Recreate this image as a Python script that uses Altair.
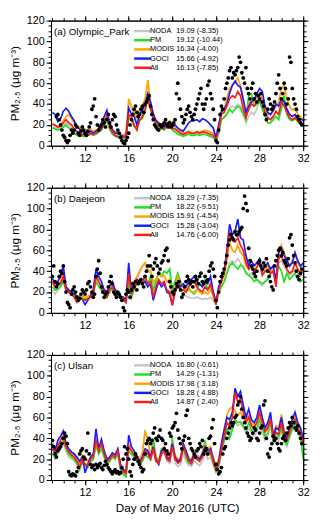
import altair as alt
import pandas as pd

FONT = "Liberation Sans"
MODELS = ["NODA", "PM", "MODIS", "GOCI", "All"]
COLORS = ["#c4c4c4", "#20e020", "#ffa500", "#1a1aff", "#ff1a1a"]
SITES = ["(a) Olympic_Park", "(b) Daejeon", "(c) Ulsan"]
STATS_A = ["19.09 (-8.35)", "19.12 (-10.44)", "16.34 (-4.00)", "15.66 (-4.92)", "16.13 (-7.85)"]
STATS_B = ["18.29 (-7.35)", "18.22 (-9.51)", "15.91 (-4.54)", "15.28 (-3.04)", "14.76 (-6.00)"]
STATS_C = ["16.80 (-0.61)", "14.29 (-1.31)", "17.98 ( 3.18)", "18.28 ( 4.88)", "14.87 ( 2.40)"]
X_MAJOR = [12, 16, 20, 24, 28, 32]
X_MINOR = list(range(9, 33))
Y_MAJOR = [0, 20, 40, 60, 80, 100, 120]
Y_MINOR = list(range(0, 121, 5))
X_TITLE = "Day of May 2016 (UTC)"
Y_TITLE = "PM\u2082.\u2085 (\u03bcg m\u207b\u00b3)"

# model output sampled every 6 h from May 9 00 UTC to May 32 00 UTC (93 values)
T_MODEL = [9 + i * 0.25 for i in range(93)]
# observations sampled every 3 h (184 values)
T_OBS = [9 + i * 0.125 for i in range(184)]

# ---------------- (a) Olympic_Park ----------------
A_NODA = [18,17,16,18, 20,22,20,17, 14,12,11,10, 10,11,12,11, 12,14,16,22, 26,17,12,10,
          9,8,8,9, 42,36,30,26, 32,35,42,60, 42,32,24,20, 18,17,20,22, 16,14,12,11,
          10,11,12,11, 10,11,10,11, 11,10,9,8, 5,12,25,28, 32,36,38,37, 40,38,30,22,
          28,32,30,35, 45,40,32,26, 25,28,32,30, 40,45,35,30, 28,30,26,24, 22]
A_PM = [17,16,15,16, 18,20,17,15, 12,10,10,9, 9,10,11,10, 11,13,15,20, 24,16,11,9,
        8,7,7,8, 28,25,18,18, 24,26,32,48, 38,28,20,18, 16,15,18,20, 15,13,11,10,
        9,10,11,10, 10,11,10,11, 11,10,9,8, 5,12,25,27, 30,35,32,35, 38,36,30,25,
        48,50,38,40, 42,35,28,22, 22,25,28,25, 35,48,30,25, 24,26,23,21, 20]
A_MODIS = [20,19,18,20, 24,28,30,26, 22,18,18,16, 15,14,16,14, 15,17,20,26, 30,22,16,14,
           12,11,10,12, 45,38,32,28, 35,38,45,63, 40,30,25,22, 20,18,22,24, 20,18,15,14,
           12,13,14,13, 12,14,13,14, 15,14,13,12, 7,18,32,34, 45,55,58,60, 65,58,42,30,
           40,45,42,46, 50,45,36,30, 30,33,38,42, 55,58,45,38, 34,36,30,28, 25]
A_GOCI = [32,30,23,26, 33,36,33,28, 24,18,16,14, 13,12,14,12, 14,16,22,28, 34,22,15,12,
          12,10,9,9, 36,30,28,20, 30,34,40,50, 42,30,24,22, 20,18,22,20, 18,20,17,15,
          14,18,22,24, 24,25,23,26, 25,23,20,17, 8,20,33,35, 40,50,58,62, 58,56,45,32,
          38,42,44,50, 55,52,38,32, 30,34,40,38, 45,42,35,30, 28,30,25,26, 24]
A_ALL = [21,20,18,19, 22,25,22,20, 16,14,12,11, 10,10,12,11, 12,14,16,22, 28,18,13,10,
         9,8,8,9, 30,28,20,15, 25,28,35,45, 35,26,22,20, 18,16,20,21, 17,16,14,12,
         11,12,13,12, 12,13,12,13, 13,12,11,10, 6,15,30,32, 38,45,48,46, 52,48,35,27,
         35,40,38,42, 45,40,32,27, 25,28,33,30, 42,38,32,27, 25,27,24,22, 20]
A_OBS = [None,None,None,28,30,25,20,15, 10,8,5,3,5,10,15,12, 15,20,18,12,10,14,18,15,
         12,10,14,18,22,35,38,45, 28,20,15,18,20,25,22,18, 25,30,22,18,25,30,28,20,
         15,12,8,5,3,2,5,8, 12,20,25,30,35,38,32,28, 30,35,38,32,40,42,45,48,
         38,30,25,20,18,16,15,20, 18,20,22,25,20,18,22,18, 20,22,25,50,60,45,35,28,
         22,25,30,35,38,32,28,25, 30,35,40,45,50,55,40,35, 40,45,58,62,50,45,35,25,
         5,3,15,30,38,35,45,55, 60,65,72,75,65,70,68,72, 75,85,80,70,65,60,75,55,
         50,45,55,60,45,50,42,48, 45,50,42,38,30,25,35,45, 40,35,38,42,50,60,68,55,
         45,50,60,55,40,45,85,80, 55,45,40,35,28,25,22,20]

# ---------------- (b) Daejeon ----------------
B_NODA = [22,18,22,25, 32,22,20,18, 16,15,16,15, 14,15,17,20, 35,28,24,20, 18,22,26,20,
          18,15,14,11, 35,18,28,32, 38,44,48,40, 38,28,32,38, 35,40,38,42, 20,28,35,28,
          18,16,15,14, 14,15,14,13, 14,13,15,12, 8,18,25,30, 38,48,50,48, 52,48,45,40,
          36,38,34,32, 28,26,30,34, 36,40,30,48, 50,45,40,36, 38,42,38,35, 36]
B_PM = [25,22,23,25, 30,22,20,18, 16,15,16,14, 13,14,16,18, 30,25,22,18, 15,20,24,18,
        16,14,12,10, 30,15,22,28, 30,28,32,28, 35,22,30,38, 35,40,38,42, 22,30,38,30,
        25,22,24,20, 18,22,28,25, 32,22,25,20, 12,20,25,30, 38,45,48,45, 42,46,44,38,
        36,34,30,32, 30,28,30,32, 38,40,35,45, 40,30,38,32, 35,38,32,30, 32]
B_MODIS = [28,25,26,30, 38,24,22,20, 18,16,17,16, 15,16,18,22, 38,30,26,22, 20,25,28,22,
           20,16,15,12, 40,20,30,35, 40,45,48,42, 40,30,32,38, 35,36,30,32, 15,25,35,28,
           25,20,22,20, 20,22,20,18, 20,18,22,16, 10,22,30,36, 50,68,60,58, 65,58,55,45,
           42,44,40,44, 50,40,42,45, 40,42,32,55, 65,58,52,45, 50,56,48,44, 46]
B_GOCI = [33,28,30,35, 45,25,22,20, 18,16,14,13, 8,12,16,22, 42,35,30,22, 20,26,30,22,
          20,16,15,12, 48,20,28,32, 30,28,30,25, 28,12,22,30, 25,28,20,18, 8,22,30,25,
          28,25,30,32, 35,30,28,25, 30,28,35,20, 10,25,32,40, 60,85,75,78, 90,72,70,55,
          45,50,45,48, 52,40,45,48, 42,45,30,58, 62,55,50,45, 48,58,50,45, 48]
B_ALL = [30,25,26,28, 35,22,20,18, 15,10,14,13, 12,13,15,18, 35,30,25,18, 15,22,25,18,
         18,14,13,10, 38,18,25,30, 32,30,35,28, 30,15,25,32, 28,30,22,20, 7,20,28,22,
         22,20,25,28, 30,25,22,20, 25,22,28,18, 8,22,30,38, 55,78,70,68, 72,65,60,48,
         42,45,40,44, 48,36,40,42, 38,40,25,52, 55,48,42,38, 40,48,42,38, 40]
B_OBS = [35,45,30,25,28,35,40,38, 45,30,20,10,8,5,18,22, 25,20,15,12,14,18,22,20,
         18,22,28,30,25,20,15,18, 35,42,50,38,25,20,15,18, 20,25,30,35,28,20,18,15,
         20,18,15,12,5,2,18,22, 20,15,22,28,25,30,22,28, 30,32,28,25,35,40,45,55,
         45,35,42,48,52,45,38,42, 48,50,55,60,62,50,30,25, 20,18,22,28,25,30,22,15,
         18,25,30,35,32,28,30,25, 30,35,32,28,35,38,30,28, 35,30,32,40,45,48,42,35,
         12,5,20,30,35,38,42,48, 55,65,70,75,72,70,78,75, 75,78,80,82,100,112,105,98,
         62,50,45,42,38,35,40,48, 50,45,42,48,45,52,40,35, 30,25,22,45,50,55,60,62,
         55,58,50,48,45,52,72,75, 65,55,48,40,35,32,38,42]

# ---------------- (c) Ulsan ----------------
C_NODA = [25,20,25,30, 35,28,22,20, 18,15,12,16, 16,14,18,20, 32,25,30,22, 16,18,22,20,
          25,10,6,5, 28,25,22,18, 16,24,48,38, 18,28,18,15, 24,26,18,16, 28,16,13,15,
          25,18,14,13, 18,16,14,18, 26,20,22,14, 8,12,25,36, 48,45,50,56, 52,54,50,45,
          50,45,42,46, 55,45,38,42, 52,35,42,38, 48,36,32,40, 48,52,45,40, 30]
C_PM = [26,22,28,32, 38,30,25,22, 20,16,10,18, 14,12,18,20, 34,25,30,22, 15,18,22,20,
        26,10,5,3, 28,25,22,18, 14,18,24,22, 20,40,22,18, 30,30,22,20, 40,22,18,20,
        30,22,16,15, 22,20,18,26, 38,24,26,16, 8,14,28,38, 50,40,48,58, 55,56,52,48,
        55,48,45,50, 58,50,42,45, 57,38,45,42, 50,38,34,42, 50,55,48,42, 20]
C_MODIS = [32,26,33,38, 43,33,28,25, 24,20,16,24, 22,18,22,24, 40,30,36,26, 20,22,26,24,
           29,14,10,8, 34,30,26,22, 20,26,46,40, 24,34,22,20, 28,32,24,22, 36,24,20,22,
           34,28,22,20, 26,24,22,26, 34,30,32,22, 14,20,34,48, 62,68,70,66, 62,65,60,58,
           62,55,52,56, 62,55,48,52, 62,44,52,50, 63,48,42,52, 56,60,52,48, 38]
C_GOCI = [35,28,38,42, 47,35,30,27, 25,22,18,22, 7,15,22,25, 49,30,39,28, 20,22,26,24,
          30,15,10,8, 43,32,28,22, 18,22,30,28, 22,32,20,15, 28,30,22,20, 35,22,18,20,
          35,28,20,18, 25,22,20,25, 32,28,30,20, 12,18,35,48, 60,58,65,88, 80,85,72,60,
          68,58,55,60, 72,60,50,55, 65,42,50,48, 60,45,40,50, 58,65,55,50, 40]
C_ALL = [30,25,32,38, 42,32,27,24, 22,18,12,20, 15,14,20,22, 38,28,35,25, 18,20,24,22,
         28,12,8,6, 32,28,24,20, 16,20,28,25, 20,30,18,16, 25,28,20,18, 32,20,16,18,
         32,25,18,16, 22,20,18,22, 30,26,28,18, 10,16,30,42, 55,52,60,84, 75,78,65,55,
         60,52,50,55, 65,55,46,50, 58,40,46,44, 55,42,38,46, 54,58,50,45, 35]
C_OBS = [38,32,25,22,28,30,32,35, 40,45,42,35,8,5,4,6, 5,4,8,12,25,28,30,22,
         20,28,45,25,15,12,14,10, 15,12,14,16,12,10,14,18, 15,12,10,8,6,8,10,7,
         8,6,7,12,20,32,25,30, 20,8,4,15,20,25,22,18, 15,12,8,10,25,35,38,40,
         35,38,45,50,40,38,42,48, 40,38,30,35,28,25,45,42, 50,52,55,64,48,40,35,30,
         38,42,62,67,40,35,30,28, 25,22,28,30,35,32,38,25, 28,30,25,40,42,50,58,35,
         15,10,6,8,12,25,30,32, 40,45,50,55,52,55,60,62, 72,75,80,68,60,55,50,45,
         42,38,40,45,50,48,40,38, 45,50,52,72,76,40,25,22, 30,35,42,38,40,35,30,28,
         35,40,42,38,45,50,55,52, 60,55,50,48,52,45,40,35]

for s in [A_NODA, A_PM, A_MODIS, A_GOCI, A_ALL, B_NODA, B_PM, B_MODIS, B_GOCI, B_ALL,
          C_NODA, C_PM, C_MODIS, C_GOCI, C_ALL]:
    assert len(s) == len(T_MODEL), len(s)
for s in [A_OBS, B_OBS, C_OBS]:
    assert len(s) == len(T_OBS), len(s)


def make_panel(site, stats, series, obs, xtitle):
    xs = alt.Scale(domain=[8.875, 32], nice=False, zero=False)
    ys = alt.Scale(domain=[0, 120], nice=False, zero=False)

    x_bot = alt.Axis(orient="bottom", values=X_MAJOR, tickSize=5, format="d", labelFlush=False,
                     labelPadding=2, title=xtitle, titlePadding=5)
    x_top = alt.Axis(orient="top", values=X_MAJOR, tickSize=5, labels=False, title=None)
    x_bot_m = alt.Axis(orient="bottom", values=X_MINOR, tickSize=3, labels=False, domain=False, title=None)
    x_top_m = alt.Axis(orient="top", values=X_MINOR, tickSize=3, labels=False, domain=False, title=None)
    y_left = alt.Axis(orient="left", values=Y_MAJOR, tickSize=5, labelFlush=False, labelPadding=2,
                      title=Y_TITLE, titlePadding=5)
    y_right = alt.Axis(orient="right", values=Y_MAJOR, tickSize=5, labels=False, title=None)
    y_left_m = alt.Axis(orient="left", values=Y_MINOR, tickSize=3, labels=False, domain=False, title=None)
    y_right_m = alt.Axis(orient="right", values=Y_MINOR, tickSize=3, labels=False, domain=False, title=None)

    axes = [(x_top, y_right), (x_bot_m, y_left_m), (x_top_m, y_right_m), (None, None), (None, None)]
    layers = []
    for name, color, vals, (ax_x, ax_y) in zip(MODELS, COLORS, series, axes):
        df = pd.DataFrame({"t": T_MODEL, "v": vals})
        layers.append(
            alt.Chart(df).mark_line(color=color, strokeWidth=1.7, clip=True).encode(
                x=alt.X("t:Q", scale=xs, axis=ax_x),
                y=alt.Y("v:Q", scale=ys, axis=ax_y),
            )
        )
    dfo = pd.DataFrame({"t": T_OBS, "v": obs})
    layers.append(
        alt.Chart(dfo).mark_circle(color="black", size=15, opacity=1, clip=True).encode(
            x=alt.X("t:Q", scale=xs, axis=x_bot),
            y=alt.Y("v:Q", scale=ys, axis=y_left),
        )
    )

    leg = pd.DataFrame({"model": MODELS, "stats": stats, "row": list(range(len(MODELS)))})
    base = alt.Chart(leg).transform_calculate(
        ly="110 - 8.8 * datum.row", lx1="16.5", lx2="18.05", tx="17.95", sx="20.35"
    )
    layers.append(
        base.mark_rule(strokeWidth=2.5).encode(
            x=alt.X("lx1:Q", scale=xs, axis=None),
            x2="lx2:Q",
            y=alt.Y("ly:Q", scale=ys, axis=None),
            color=alt.Color("model:N", scale=alt.Scale(domain=MODELS, range=COLORS), legend=None),
        )
    )
    layers.append(
        base.mark_text(align="left", baseline="middle", fontSize=7.6, font=FONT, color="black").encode(
            x=alt.X("tx:Q", scale=xs, axis=None),
            y=alt.Y("ly:Q", scale=ys, axis=None),
            text="model:N",
        )
    )
    layers.append(
        base.mark_text(align="left", baseline="middle", fontSize=7.6, font=FONT, color="black").encode(
            x=alt.X("sx:Q", scale=xs, axis=None),
            y=alt.Y("ly:Q", scale=ys, axis=None),
            text="stats:N",
        )
    )
    layers.append(
        alt.Chart(pd.DataFrame({"label": [site]}))
        .transform_calculate(px="9.15", py="109")
        .mark_text(align="left", baseline="middle", fontSize=10, font=FONT, color="black")
        .encode(
            x=alt.X("px:Q", scale=xs, axis=None),
            y=alt.Y("py:Q", scale=ys, axis=None),
            text="label:N",
        )
    )
    return alt.layer(*layers).resolve_axis(x="independent", y="independent").properties(
        width=258, height=128
    )


pa = make_panel(SITES[0], STATS_A, [A_NODA, A_PM, A_MODIS, A_GOCI, A_ALL], A_OBS, None)
pb = make_panel(SITES[1], STATS_B, [B_NODA, B_PM, B_MODIS, B_GOCI, B_ALL], B_OBS, None)
pc = make_panel(SITES[2], STATS_C, [C_NODA, C_PM, C_MODIS, C_GOCI, C_ALL], C_OBS, X_TITLE)

chart = (
    alt.vconcat(pa, pb, pc, spacing=17)
    .properties(padding={"left": 0, "top": 0, "right": 2, "bottom": 1}, background="white")
    .configure_view(stroke="black", strokeWidth=1)
    .configure_axis(
        labelFont=FONT, titleFont=FONT, labelFontSize=11, titleFontSize=12,
        titleFontWeight="normal", labelColor="black", titleColor="black",
        tickColor="black", domainColor="black", tickWidth=1, domainWidth=1, grid=False,
    )
)

chart.save("out.html", embed_options={"renderer": "svg", "actions": False})
